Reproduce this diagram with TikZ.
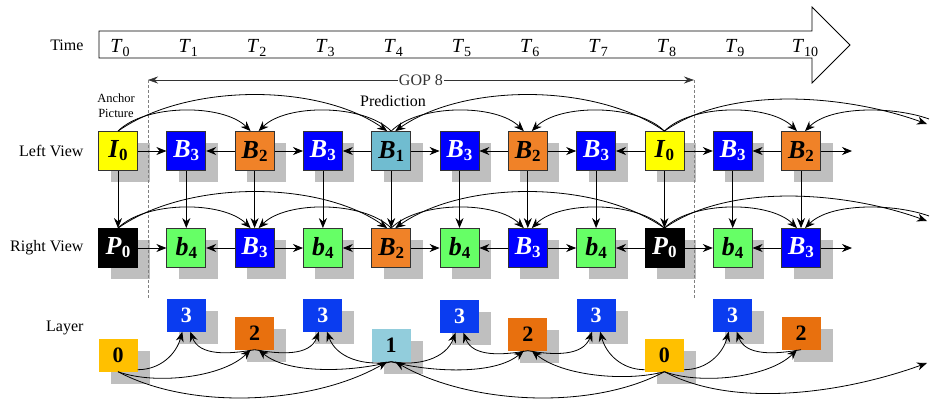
\documentclass[tikz,border=0pt]{standalone}
\usepackage{fontspec}
\setmainfont{Liberation Serif}
\usetikzlibrary{positioning,shadows,arrows.meta}
\definecolor{iyellow}{HTML}{FFFF00}
\definecolor{borange}{HTML}{F08228}
\definecolor{bblue}{HTML}{0000FF}
\definecolor{blight}{HTML}{70BCD0}
\definecolor{bgreen}{HTML}{66FF66}
\definecolor{shadowgray}{HTML}{BFBFBF}
\definecolor{layzero}{HTML}{FFC000}
\definecolor{layone}{HTML}{92CDDC}
\definecolor{laytwo}{HTML}{E8700E}
\definecolor{laythree}{HTML}{0A3CF0}
\newcommand{\vlab}[2]{\textbf{\textit{#1}}\raisebox{-3pt}{\fontsize{17}{17}\selectfont\bfseries #2}}
\newcommand{\tlab}[1]{\textit{T}\raisebox{-4pt}{\fontsize{14}{14}\selectfont #1}}

\begin{document}
\begin{tikzpicture}[
    x=1pt, y=1pt,
    node distance=97pt and 68.3pt, on grid,
    font=\fontsize{16}{18}\selectfont,
    frame/.style={rectangle, draw=black!80, line width=0.8pt, minimum size=39pt, inner sep=0pt, font=\fontsize{26}{26}\selectfont, general shadow={fill=shadowgray, shadow xshift=12pt, shadow yshift=-11pt}},
    iframe/.style={frame, fill=iyellow},
    pframe/.style={frame, fill=black, draw=black, text=white},
    bone/.style={frame, fill=blight},
    btwo/.style={frame, fill=borange},
    bthree/.style={frame, fill=bblue, text=white},
    bfour/.style={frame, fill=bgreen},
    layer/.style={rectangle, minimum width=39pt, minimum height=33pt, inner sep=0pt, font=\fontsize{22}{22}\selectfont\bfseries, general shadow={fill=shadowgray, shadow xshift=12pt, shadow yshift=-12pt}},
    arrow/.style={->, >={Stealth[length=10pt, width=8pt]}, line width=0.8pt},
    arc/.style={arrow, looseness=0.75},
    longarc/.style={arrow, looseness=0.8},
    gop/.style={<->, >={Stealth[length=10pt, width=7pt]}, line width=0.6pt, color=black!80},
    cut/.style={densely dashed, line width=0.7pt, color=gray},
    rowlabel/.style={anchor=east},
    stamp/.style={anchor=base, font=\fontsize{20}{20}\selectfont}
]
\useasboundingbox (0,0) rectangle (930,-405);

% === TIME AXIS ===
\draw[line width=0.8pt] (99,-31) -- (812,-31) -- (812,-7) -- (850,-45) -- (812,-83) -- (812,-58) -- (99,-58) -- cycle;
\node[rowlabel] (time) at (87,-45) {Time};

% === LEFT VIEW ===
\node[iframe] (L0) at (118,-151) {\vlab{I}{0}};
\node[bthree, right=of L0] (L1) {\vlab{B}{3}};
\node[btwo, right=of L1] (L2) {\vlab{B}{2}};
\node[bthree, right=of L2] (L3) {\vlab{B}{3}};
\node[bone, right=of L3] (L4) {\vlab{B}{1}};
\node[bthree, right=of L4] (L5) {\vlab{B}{3}};
\node[btwo, right=of L5] (L6) {\vlab{B}{2}};
\node[bthree, right=of L6] (L7) {\vlab{B}{3}};
\node[iframe, right=of L7] (L8) {\vlab{I}{0}};
\node[bthree, right=of L8] (L9) {\vlab{B}{3}};
\node[btwo, right=of L9] (L10) {\vlab{B}{2}};

% === RIGHT VIEW ===
\node[pframe, below=of L0] (R0) {\vlab{P}{0}};
\node[bfour, right=of R0] (R1) {\vlab{b}{4}};
\node[bthree, right=of R1] (R2) {\vlab{B}{3}};
\node[bfour, right=of R2] (R3) {\vlab{b}{4}};
\node[btwo, right=of R3] (R4) {\vlab{B}{2}};
\node[bfour, right=of R4] (R5) {\vlab{b}{4}};
\node[bthree, right=of R5] (R6) {\vlab{B}{3}};
\node[bfour, right=of R6] (R7) {\vlab{b}{4}};
\node[pframe, right=of R7] (R8) {\vlab{P}{0}};
\node[bfour, right=of R8] (R9) {\vlab{b}{4}};
\node[bthree, right=of R9] (R10) {\vlab{B}{3}};

% === LAYERS ===
\node[layer, fill=layzero, below=107pt of R0] (Y0) {0};
\node[layer, fill=laythree, text=white, below=67pt of R1] (Y1) {3};
\node[layer, fill=laytwo, below=85pt of R2] (Y2) {2};
\node[layer, fill=laythree, text=white, below=67pt of R3] (Y3) {3};
\node[layer, fill=layone, below=97pt of R4] (Y4) {1};
\node[layer, fill=laythree, text=white, below=68pt of R5] (Y5) {3};
\node[layer, fill=laytwo, below=86pt of R6] (Y6) {2};
\node[layer, fill=laythree, text=white, below=67pt of R7] (Y7) {3};
\node[layer, fill=layzero, below=107pt of R8] (Y8) {0};
\node[layer, fill=laythree, text=white, below=67pt of R9] (Y9) {3};
\node[layer, fill=laytwo, below=85pt of R10] (Y10) {2};

% time stamps
\node[stamp, xshift=2pt] (t0) at (L0 |- 0,-52) {\tlab{0}};
\node[stamp, xshift=2pt] (t1) at (L1 |- 0,-52) {\tlab{1}};
\node[stamp, xshift=2pt] (t2) at (L2 |- 0,-52) {\tlab{2}};
\node[stamp, xshift=2pt] (t3) at (L3 |- 0,-52) {\tlab{3}};
\node[stamp, xshift=2pt] (t4) at (L4 |- 0,-52) {\tlab{4}};
\node[stamp, xshift=2pt] (t5) at (L5 |- 0,-52) {\tlab{5}};
\node[stamp, xshift=2pt] (t6) at (L6 |- 0,-52) {\tlab{6}};
\node[stamp, xshift=2pt] (t7) at (L7 |- 0,-52) {\tlab{7}};
\node[stamp, xshift=2pt] (t8) at (L8 |- 0,-52) {\tlab{8}};
\node[stamp, xshift=2pt] (t9) at (L9 |- 0,-52) {\tlab{9}};
\node[stamp, xshift=4pt] (t10) at (L10 |- 0,-52) {\tlab{10}};

% === LABELS ===
\node[rowlabel] (leftview) at (87,-151) {Left View};
\node[rowlabel] (rightview) at (87,-248) {Right View};
\node[rowlabel] (layers) at (87,-328) {Layer};
\node[font=\fontsize{12.5}{15}\selectfont, align=center] (anchorpic) at (116,-106) {Anchor\\Picture};
\node (prediction) at (393,-101) {Prediction};

% === GOP ===
\coordinate (gopL) at (148,-80);
\coordinate (gopR) at (694,-80);
\coordinate (cutL) at (148,-298);
\coordinate (cutR) at (694,-298);
\draw[gop] (gopL) -- node[fill=white, inner sep=1pt] {GOP 8} (gopR);
\draw[cut] (gopL) -- (cutL);
\draw[cut] (gopR) -- (cutR);

% === CONNECTIONS ===
% left view neighbours
\draw[arrow] (L0) -- (L1);
\draw[arrow] (L2) -- (L1);
\draw[arrow] (L2) -- (L3);
\draw[arrow] (L4) -- (L3);
\draw[arrow] (L4) -- (L5);
\draw[arrow] (L6) -- (L5);
\draw[arrow] (L6) -- (L7);
\draw[arrow] (L8) -- (L7);
\draw[arrow] (L8) -- (L9);
\draw[arrow] (L10) -- (L9);
\coordinate (endL) at (852,-151);
\draw[arrow] (L10) -- (endL);

% right view neighbours
\draw[arrow] (R0) -- (R1);
\draw[arrow] (R2) -- (R1);
\draw[arrow] (R2) -- (R3);
\draw[arrow] (R4) -- (R3);
\draw[arrow] (R4) -- (R5);
\draw[arrow] (R6) -- (R5);
\draw[arrow] (R6) -- (R7);
\draw[arrow] (R8) -- (R7);
\draw[arrow] (R8) -- (R9);
\draw[arrow] (R10) -- (R9);
\coordinate (endR) at (852,-248);
\draw[arrow] (R10) -- (endR);

% inter-view
\draw[arrow] (L0) -- (R0);
\draw[arrow] (L1) -- (R1);
\draw[arrow] (L2) -- (R2);
\draw[arrow] (L3) -- (R3);
\draw[arrow] (L4) -- (R4);
\draw[arrow] (L5) -- (R5);
\draw[arrow] (L6) -- (R6);
\draw[arrow] (L7) -- (R7);
\draw[arrow] (L8) -- (R8);
\draw[arrow] (L9) -- (R9);
\draw[arrow] (L10) -- (R10);

% hierarchical arcs, left view
\coordinate (edgeLin) at (927,-124);
\coordinate (edgeLout) at (929,-119);
\draw[arc] (L0.north) to[out=45, in=135] ([xshift=-4pt]L2.north);
\draw[longarc] (L0.north) to[out=35, in=145] ([xshift=-4pt]L4.north);
\draw[arc] (L4.north) to[out=135, in=45] ([xshift=4pt]L2.north);
\draw[arc] (L4.north) to[out=45, in=135] ([xshift=-4pt]L6.north);
\draw[arc] (L8.north) to[out=135, in=45] ([xshift=4pt]L6.north);
\draw[longarc] (L8.north) to[out=145, in=35] ([xshift=4pt]L4.north);
\draw[arc] (L8.north) to[out=45, in=135] ([xshift=-4pt]L10.north);
\draw[longarc] (L8.north) to[out=35, in=160] (edgeLin);
\draw[arc] (edgeLout) to[out=160, in=45] ([xshift=4pt]L10.north);

% hierarchical arcs, right view
\coordinate (edgeRin) at (927,-221);
\coordinate (edgeRout) at (929,-216);
\draw[arc] (R0.north) to[out=45, in=135] ([xshift=-4pt]R2.north);
\draw[longarc] (R0.north) to[out=35, in=145] ([xshift=-4pt]R4.north);
\draw[arc] (R4.north) to[out=135, in=45] ([xshift=4pt]R2.north);
\draw[arc] (R4.north) to[out=45, in=135] ([xshift=-4pt]R6.north);
\draw[arc] (R8.north) to[out=135, in=45] ([xshift=4pt]R6.north);
\draw[longarc] (R8.north) to[out=145, in=35] ([xshift=4pt]R4.north);
\draw[arc] (R8.north) to[out=45, in=135] ([xshift=-4pt]R10.north);
\draw[longarc] (R8.north) to[out=35, in=160] (edgeRin);
\draw[arc] (edgeRout) to[out=160, in=45] ([xshift=4pt]R10.north);

% layer dependencies
\coordinate (edgeY) at (927,-363);
\draw[arrow] ([yshift=2pt]Y0.south east) to[out=0, in=-105] ([xshift=-4pt]Y1.south);
\draw[arrow] (Y2.south) to[out=190, in=-70] ([xshift=4pt]Y1.south);
\draw[arc] (Y0.south) to[out=-20, in=-135] ([xshift=-4pt]Y2.south);
\draw[arrow] (Y2.south) to[out=-10, in=-110] ([xshift=-4pt]Y3.south);
\draw[arrow] (Y4.south) to[out=190, in=-70] ([xshift=4pt]Y3.south);
\draw[arc] (Y4.south) to[out=195, in=-40] ([xshift=4pt]Y2.south);
\draw[longarc] (Y0.south) to[out=-28, in=-150] ([xshift=-4pt]Y4.south);
\draw[arrow] (Y4.south) to[out=-10, in=-110] ([xshift=-4pt]Y5.south);
\draw[arrow] (Y6.south) to[out=190, in=-70] ([xshift=4pt]Y5.south);
\draw[arc] (Y4.south) to[out=-15, in=-140] ([xshift=-4pt]Y6.south);
\draw[arrow] (Y6.south) to[out=-10, in=-110] ([xshift=-4pt]Y7.south);
\draw[arrow] ([yshift=2pt]Y8.south west) to[out=180, in=-75] ([xshift=4pt]Y7.south);
\draw[arc] (Y8.south) to[out=195, in=-40] ([xshift=4pt]Y6.south);
\draw[longarc] (Y8.south) to[out=208, in=-30] ([xshift=4pt]Y4.south);
\draw[arrow] ([yshift=2pt]Y8.south east) to[out=0, in=-105] ([xshift=-4pt]Y9.south);
\draw[arrow] (Y10.south) to[out=190, in=-70] ([xshift=4pt]Y9.south);
\draw[arc] (Y8.south) to[out=-20, in=-135] ([xshift=-4pt]Y10.south);
\draw[longarc] (Y8.south) to[out=-28, in=-160] (edgeY);

\end{tikzpicture}
\end{document}
